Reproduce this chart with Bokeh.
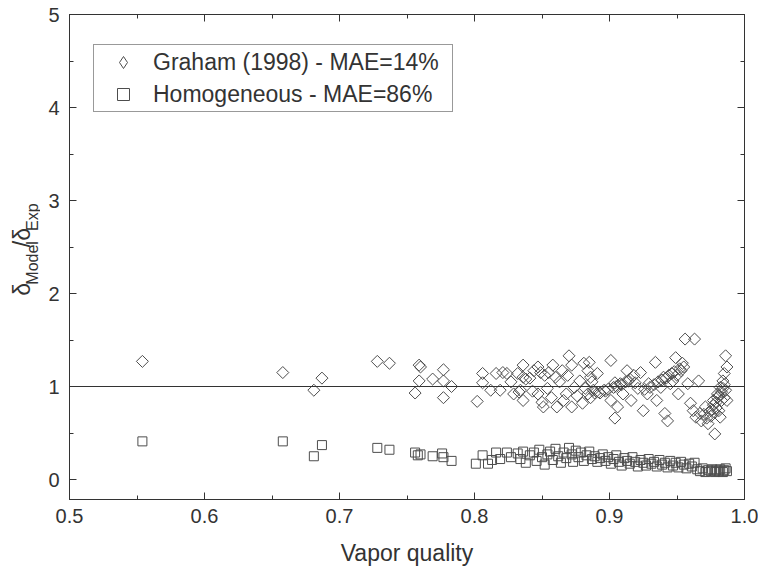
import numpy as np
from bokeh.plotting import figure
from bokeh.layouts import row
from bokeh.models import Range1d, LinearAxis, FixedTicker, Span, Legend, LegendItem, ColumnDataSource
from bokeh.core.properties import value
from bokeh.embed import file_html
from bokeh.resources import INLINE

# ---- data ----
graham_x = [0.554, 0.658, 0.681, 0.687, 0.728, 0.737, 0.759, 0.760, 0.759, 0.756, 0.769, 0.777, 0.777, 0.783, 0.777,
            0.802, 0.806, 0.806, 0.812, 0.816, 0.821, 0.819, 0.824, 0.832, 0.833, 0.836, 0.836, 0.834, 0.836, 0.841,
            0.844, 0.847, 0.849, 0.847, 0.850, 0.851, 0.854, 0.855, 0.858, 0.860, 0.861, 0.865, 0.866, 0.868, 0.870,
            0.872, 0.872, 0.874, 0.878, 0.881, 0.884, 0.885, 0.886, 0.888, 0.891, 0.884, 0.886, 0.892, 0.896, 0.901,
            0.901, 0.903, 0.904, 0.906, 0.904, 0.908, 0.910, 0.913, 0.914, 0.916, 0.918, 0.921, 0.923, 0.925, 0.928,
            0.929, 0.934, 0.935, 0.938, 0.940, 0.941, 0.943, 0.945, 0.947, 0.949, 0.950, 0.951, 0.953, 0.954, 0.956,
            0.963, 0.958, 0.960, 0.962, 0.964, 0.966, 0.967, 0.968, 0.971, 0.973, 0.977, 0.978, 0.980, 0.981, 0.982,
            0.984, 0.985, 0.986, 0.985, 0.987, 0.987, 0.982, 0.986,
            0.893, 0.897, 0.899, 0.905, 0.909, 0.912, 0.915, 0.919, 0.926, 0.930, 0.933, 0.936, 0.939, 0.942, 0.944,
            0.946, 0.948, 0.952, 0.955,
            0.970, 0.972, 0.974, 0.975, 0.976, 0.977, 0.978, 0.979, 0.980, 0.981, 0.983, 0.984, 0.985, 0.983, 0.979,
            0.838, 0.843, 0.852, 0.857, 0.863, 0.869, 0.876, 0.880, 0.882, 0.887, 0.889, 0.827, 0.829]
graham_y = [1.27, 1.15, 0.96, 1.09, 1.27, 1.25, 1.23, 1.21, 1.06, 0.93, 1.08, 1.18, 1.06, 1.00, 0.88,
            0.84, 1.14, 1.04, 0.96, 1.14, 1.15, 0.96, 1.14, 1.14, 0.94, 1.23, 1.10, 0.96, 0.85, 1.09,
            1.17, 1.21, 1.15, 0.92, 0.83, 0.78, 0.98, 1.15, 1.23, 1.10, 0.78, 1.17, 0.85, 0.92, 1.33,
            0.78, 1.23, 0.99, 1.06, 1.25, 1.17, 1.26, 1.10, 0.96, 1.14, 0.92, 0.88, 0.94, 0.96, 1.28,
            0.85, 0.99, 1.04, 0.78, 0.66, 1.03, 0.92, 1.17, 1.06, 0.85, 1.12, 0.98, 1.15, 0.74, 0.92,
            1.03, 1.26, 0.85, 0.99, 1.10, 0.71, 0.63, 1.03, 1.06, 1.31, 1.12, 0.92, 1.17, 1.25, 1.51,
            1.51, 1.03, 0.82, 0.74, 0.67, 1.06, 0.71, 0.63, 0.78, 0.60, 0.85, 0.49, 0.92, 0.74, 0.99,
            1.06, 1.14, 1.33, 0.88, 0.85, 1.21, 0.67, 0.96,
            0.93, 0.95, 0.97, 1.00, 1.02, 1.05, 1.08, 1.04, 0.97, 0.99, 1.02, 1.05, 1.07, 1.09, 1.12,
            1.14, 1.16, 1.19, 1.21,
            0.70, 0.66, 0.73, 0.68, 0.75, 0.80, 0.72, 0.83, 0.88, 0.90, 0.94, 0.98, 1.02, 0.85, 0.77,
            1.08, 0.95, 1.12, 0.88, 1.05, 1.12, 0.90, 0.82, 0.98, 1.05, 0.93, 1.05, 0.92]

homog_x = [0.554, 0.658, 0.681, 0.687, 0.728, 0.737, 0.756, 0.758, 0.760, 0.769, 0.776, 0.777, 0.783, 0.801, 0.806,
           0.810, 0.813, 0.816, 0.819, 0.824, 0.827, 0.832, 0.834, 0.836, 0.838, 0.841, 0.844, 0.846, 0.848, 0.850,
           0.852, 0.854, 0.856, 0.858, 0.860, 0.862, 0.864, 0.866, 0.868, 0.870, 0.872, 0.873, 0.875, 0.877, 0.879,
           0.881, 0.883, 0.885, 0.887, 0.889, 0.891, 0.893, 0.895, 0.897, 0.899, 0.901, 0.903, 0.905, 0.907, 0.909,
           0.911, 0.913, 0.915, 0.917, 0.919, 0.921, 0.923, 0.925, 0.927, 0.929, 0.931, 0.933, 0.935, 0.937, 0.939,
           0.941, 0.943, 0.945, 0.947, 0.949, 0.951, 0.953, 0.955, 0.957, 0.959, 0.961, 0.963, 0.965, 0.967, 0.969,
           0.971, 0.973, 0.975, 0.976, 0.978, 0.979, 0.981, 0.982, 0.984, 0.985, 0.986, 0.987]
homog_y = [0.41, 0.41, 0.25, 0.37, 0.34, 0.32, 0.29, 0.26, 0.27, 0.25, 0.28, 0.24, 0.20, 0.17, 0.26,
           0.17, 0.21, 0.29, 0.22, 0.29, 0.24, 0.28, 0.22, 0.30, 0.18, 0.26, 0.29, 0.20, 0.32, 0.24,
           0.16, 0.27, 0.30, 0.21, 0.33, 0.25, 0.18, 0.29, 0.23, 0.34, 0.27, 0.19, 0.31, 0.24, 0.29,
           0.20, 0.26, 0.30, 0.22, 0.25, 0.19, 0.23, 0.27, 0.20, 0.24, 0.17, 0.22, 0.26, 0.19, 0.15,
           0.23, 0.20, 0.17, 0.24, 0.19, 0.14, 0.21, 0.18, 0.15, 0.22, 0.17, 0.19, 0.14, 0.21, 0.16,
           0.18, 0.13, 0.20, 0.15, 0.18, 0.13, 0.19, 0.16, 0.12, 0.17, 0.14, 0.18, 0.11, 0.09, 0.12,
           0.08, 0.10, 0.09, 0.11, 0.08, 0.10, 0.09, 0.11, 0.08, 0.10, 0.12, 0.09]

series_labels = ["Graham (1998) - MAE=14%", "Homogeneous - MAE=86%"]
x_ticks = [0.5, 0.6, 0.7, 0.8, 0.9, 1.0]
x_tick_labels = ["0.5", "0.6", "0.7", "0.8", "0.9", "1.0"]
y_ticks = [0, 1, 2, 3, 4, 5]
y_tick_labels = ["0", "1", "2", "3", "4", "5"]
x_title = "Vapor quality"
y_title_parts = ["δ", "Model", "/δ", "Exp"]
ref_value = 1.0

FONT = "Liberation Sans"
INK = "#333333"
MARK = "#4d4d4d"

W, H = 758, 569
LW = 40                       # width of the strip holding the y title
X0, X1, Y0, Y1 = 0.5, 1.0, -0.215, 5.0
L, R, T, B = 69, 744, 14, 499   # frame edges on the page (px)

# ---------- y title strip ----------
t = figure(width=LW, height=H, output_backend="svg", toolbar_location=None,
           x_range=Range1d(0, LW), y_range=Range1d(0, H),
           min_border=0, min_border_left=0, min_border_right=0, min_border_top=0, min_border_bottom=0)
t.axis.visible = False
t.xgrid.visible = False
t.ygrid.visible = False
t.outline_line_color = None
t.background_fill_color = "white"
t.border_fill_color = "white"

def ypiece(text, px, py, size):
    t.text(x=[px], y=[H - py], text=[text], angle=np.pi / 2, text_align="left", text_baseline="middle",
           text_font=value(FONT), text_font_size=value(size), text_color=INK)

ypiece(y_title_parts[0], 21, 330, "23px")
ypiece(y_title_parts[1], 32, 317, "16px")
ypiece(y_title_parts[2], 21, 273, "23px")
ypiece(y_title_parts[3], 32, 254, "16px")

# ---------- main plot ----------
p = figure(width=W - LW, height=H, output_backend="svg", toolbar_location=None,
           x_range=Range1d(X0, X1), y_range=Range1d(Y0, Y1),
           min_border_left=L - LW, min_border_right=W - R, min_border_top=T, min_border_bottom=H - B)
p.xgrid.visible = False
p.ygrid.visible = False
p.outline_line_color = INK
p.background_fill_color = "white"
p.border_fill_color = "white"

def style_axis(ax, ticks, labels, minor, show_labels=True):
    ax.ticker = FixedTicker(ticks=ticks, minor_ticks=minor)
    ax.major_label_overrides = {t_: l for t_, l in zip(ticks, labels)}
    ax.axis_line_color = INK
    ax.major_tick_line_color = INK
    ax.minor_tick_line_color = INK
    ax.major_tick_in = 7
    ax.major_tick_out = 0
    ax.minor_tick_in = 4
    ax.minor_tick_out = 0
    ax.major_label_text_font = FONT
    ax.major_label_text_color = INK
    ax.major_label_text_font_size = "20px"
    if not show_labels:
        ax.major_label_text_color = None
        ax.major_label_text_font_size = "1px"
        ax.major_label_standoff = 0

x_minor = [0.55, 0.65, 0.75, 0.85, 0.95]
y_minor = [0.5, 1.5, 2.5, 3.5, 4.5]

style_axis(p.xaxis[0], x_ticks, x_tick_labels, x_minor)
p.xaxis[0].major_label_standoff = 9
p.xaxis[0].axis_label = x_title
p.xaxis[0].axis_label_text_font = FONT
p.xaxis[0].axis_label_text_font_size = "23px"
p.xaxis[0].axis_label_text_font_style = "normal"
p.xaxis[0].axis_label_text_color = INK
p.xaxis[0].axis_label_standoff = 14

style_axis(p.yaxis[0], y_ticks, y_tick_labels, y_minor)
p.yaxis[0].major_label_standoff = 10

top = LinearAxis()
style_axis(top, x_ticks, x_tick_labels, x_minor, show_labels=False)
p.add_layout(top, "above")
right = LinearAxis()
style_axis(right, y_ticks, y_tick_labels, y_minor, show_labels=False)
p.add_layout(right, "right")

p.add_layout(Span(location=ref_value, dimension="width", line_color=INK, line_width=1))

src_g = ColumnDataSource(dict(x=graham_x, y=graham_y))
src_h = ColumnDataSource(dict(x=homog_x, y=homog_y))
rg = p.scatter("x", "y", source=src_g, marker="square", angle=np.pi / 4, size=8.5,
               fill_color=None, line_color=MARK, line_width=1)
rh = p.scatter("x", "y", source=src_h, marker="square", size=9,
               fill_color=None, line_color=MARK, line_width=1)
# legend key for the diamonds (legend keys are drawn unrotated, so use the diamond marker; zero size on the plot)
rg_key = p.scatter("x", "y", source=src_g, marker="diamond", size=0,
                   fill_color=None, line_color=MARK, line_width=1)

legend = Legend(items=[LegendItem(label=series_labels[0], renderers=[rg_key]),
                       LegendItem(label=series_labels[1], renderers=[rh])],
                location=(93 - L, B - 112), orientation="vertical")
legend.label_text_font = FONT
legend.label_text_font_size = "23px"
legend.label_text_color = INK
legend.border_line_color = INK
legend.border_line_width = 1
legend.background_fill_color = "white"
legend.background_fill_alpha = 1
legend.padding = 1
legend.spacing = 0
legend.glyph_width = 56
legend.glyph_height = 30
legend.label_height = 32
legend.label_width = 298
legend.label_standoff = 2
legend.margin = 0
p.add_layout(legend, "center")

lay = row(t, p)
open("out.html", "w").write(file_html(lay, INLINE))
